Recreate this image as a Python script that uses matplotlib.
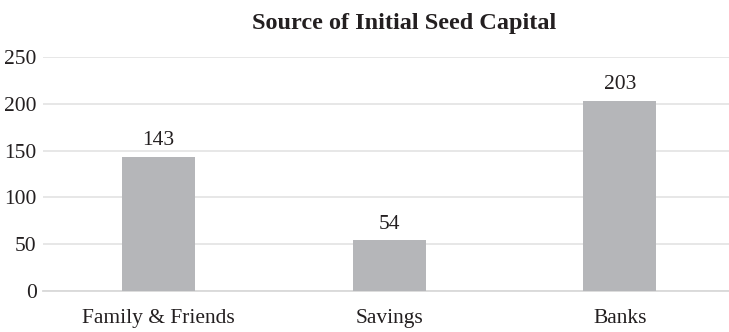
import matplotlib.pyplot as plt

# data
categories = ['Family & Friends', 'Savings', 'Banks']
values = [143, 54, 203]
yticks = [0, 50, 100, 150, 200, 250]

plt.rcParams['font.family'] = ['Liberation Serif', 'DejaVu Serif']

fig = plt.figure(figsize=(7.29, 3.32), dpi=100)
ax = fig.add_axes([43 / 729, 41 / 332, 686 / 729, 234 / 332])

x = range(len(categories))
bars = ax.bar(x, values, width=0.316, color='#b5b6b9', zorder=3)

for b, v in zip(bars, values):
    ax.annotate(str(v), (b.get_x() + b.get_width() / 2, v),
                xytext=(0, 5), textcoords='offset points',
                ha='center', va='bottom', fontsize=15.5, color='#231f20')

ax.set_xlim(-0.5, 2.473)
ax.set_ylim(0, 250)
ax.set_xticks(list(x))
ax.set_xticklabels(categories)
ax.set_yticks(yticks)
ax.tick_params(axis='both', length=0, labelsize=15.5, colors='#231f20')
ax.tick_params(axis='x', pad=13)
ax.tick_params(axis='y', pad=4.5)

ax.grid(axis='y', color='#e3e3e3', linewidth=1.2, zorder=0)
for s in ['top', 'right', 'left']:
    ax.spines[s].set_visible(False)
ax.spines['bottom'].set_color('#d9d9d9')
ax.spines['bottom'].set_linewidth(1.3)

fig.suptitle('Source of Initial Seed Capital', x=404 / 729,
             y=0.96, fontsize=17.5, fontweight='bold', color='#231f20')

plt.savefig('out.png', dpi=100)
